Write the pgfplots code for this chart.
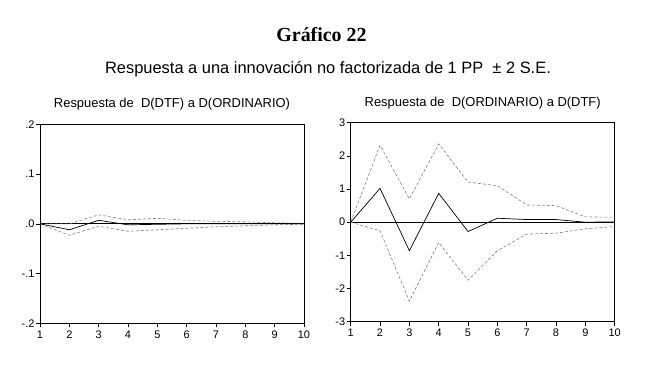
\documentclass[border=0pt]{standalone}
\usepackage{pgfplots}
\pgfplotsset{compat=1.18}
\usepackage{fontspec}
\setmainfont{Liberation Sans}
\newfontfamily\serif{Liberation Serif}
\begin{document}
\begin{tikzpicture}[x=1bp,y=1bp]
\path[use as bounding box] (0,0) rectangle (660,372);
\pgfplotsset{
  panel/.style={
    scale only axis, width=264bp, height=199bp,
    xmin=1, xmax=10, xtick={1,...,10},
    axis line style={black, line width=0.8pt},
    tick align=outside, major tick length=4bp,
    xtick pos=bottom, ytick pos=left,
    tick style={black, line width=0.6pt},
    tick label style={font=\fontsize{11}{12}\selectfont},
    /pgf/number format/assume math mode=true,
    xticklabel style={yshift=0bp},
    yticklabel style={xshift=2bp},
    title style={font=\fontsize{13}{15}\selectfont, at={(0.5,1)}, anchor=base},
    clip=false,
  },
  dash/.style={gray, densely dashed, line width=0.6pt},
  mid/.style={black, line width=0.7pt},
}
\node[font=\serif\bfseries\fontsize{20}{22}\selectfont] at (321.5,337) {Gráfico 22};
\node[font=\fontsize{16.5}{18}\selectfont] at (328,303) {Respuesta a una innovación no factorizada de 1 PP \ ± 2 S.E.};
\begin{axis}[panel, at={(40bp,48.7bp)}, anchor=south west,
  ymin=-0.2, ymax=0.2, ytick={-0.2,-0.1,0,0.1,0.2},
  yticklabels={-.2,-.1,.0,.1,.2},
  title style={yshift=11bp},
  title={Respuesta de \ D(DTF) a D(ORDINARIO)}]
\addplot[black, line width=0.7pt] coordinates {(1,0)(10,0)};
\addplot[dash] coordinates {(1,0)(2,0.000)(3,0.018)(4,0.008)(5,0.011)(6,0.007)(7,0.005)(8,0.004)(9,0.002)(10,0.001)};
\addplot[dash] coordinates {(1,0)(2,-0.023)(3,-0.005)(4,-0.015)(5,-0.012)(6,-0.009)(7,-0.006)(8,-0.004)(9,-0.002)(10,-0.001)};
\addplot[mid] coordinates {(1,0)(2,-0.012)(3,0.007)(4,-0.002)(5,-0.001)(6,0)(7,0)(8,0)(9,0)(10,0)};
\end{axis}
\begin{axis}[panel, at={(350.7bp,50.3bp)}, anchor=south west,
  ymin=-3, ymax=3, ytick={-3,-2,-1,0,1,2,3},
  title style={yshift=10bp},
  title={Respuesta de \ D(ORDINARIO) a D(DTF)}]
\addplot[black, line width=0.7pt] coordinates {(1,0)(10,0)};
\addplot[dash] coordinates {(1,0)(2,2.32)(3,0.70)(4,2.36)(5,1.21)(6,1.10)(7,0.52)(8,0.50)(9,0.16)(10,0.15)};
\addplot[dash] coordinates {(1,0)(2,-0.26)(3,-2.38)(4,-0.61)(5,-1.75)(6,-0.86)(7,-0.36)(8,-0.33)(9,-0.20)(10,-0.13)};
\addplot[mid] coordinates {(1,0)(2,1.02)(3,-0.86)(4,0.87)(5,-0.28)(6,0.12)(7,0.08)(8,0.08)(9,0)(10,0.01)};
\end{axis}
\end{tikzpicture}
\end{document}
